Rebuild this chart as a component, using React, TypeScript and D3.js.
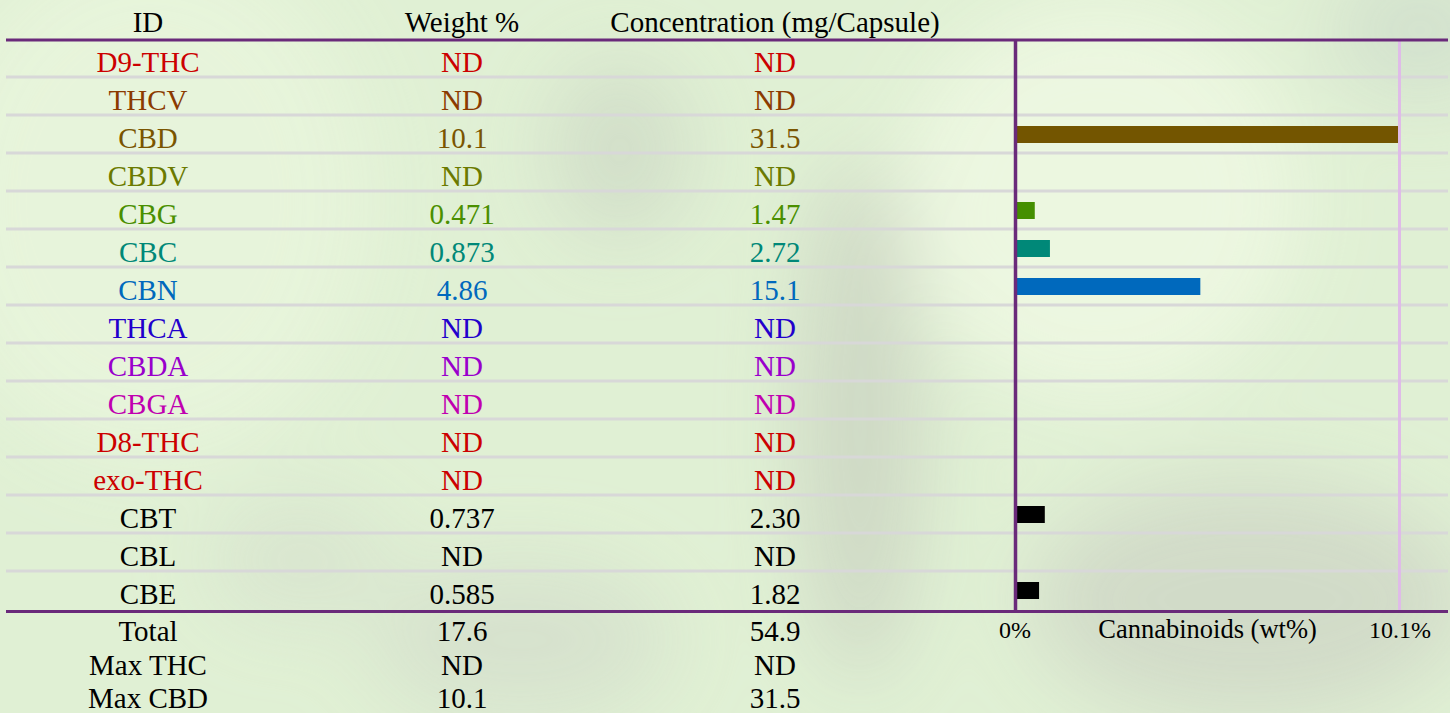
import React, { useEffect } from 'react';
import * as d3 from 'd3';

const ids = ['D9-THC', 'THCV', 'CBD', 'CBDV', 'CBG', 'CBC', 'CBN', 'THCA', 'CBDA', 'CBGA', 'D8-THC', 'exo-THC', 'CBT', 'CBL', 'CBE'];
const weights = ['ND', 'ND', '10.1', 'ND', '0.471', '0.873', '4.86', 'ND', 'ND', 'ND', 'ND', 'ND', '0.737', 'ND', '0.585'];
const concentrations = ['ND', 'ND', '31.5', 'ND', '1.47', '2.72', '15.1', 'ND', 'ND', 'ND', 'ND', 'ND', '2.30', 'ND', '1.82'];
const textColors = ['#cc0000', '#8b3a00', '#7a5500', '#6b7a00', '#4a8f00', '#008878', '#0069bd', '#2200cc', '#9900cc', '#c000b0', '#cc0000', '#cc0000', '#000000', '#000000', '#000000'];
const barColors = ['#cc0000', '#8b3a00', '#735500', '#6b7a00', '#448f00', '#008878', '#0069bd', '#2200cc', '#9900cc', '#c000b0', '#cc0000', '#cc0000', '#000000', '#000000', '#000000'];

const summaryLabels = ['Total', 'Max THC', 'Max CBD'];
const summaryWeights = ['17.6', 'ND', '10.1'];
const summaryConc = ['54.9', 'ND', '31.5'];

const headers = ['ID', 'Weight %', 'Concentration (mg/Capsule)'];
const axisMax = 10.1;
const axisLabels = ['0%', 'Cannabinoids (wt%)', '10.1%'];

const W = 1450;
const H = 713;
const FONT = '"Liberation Serif", "Times New Roman", serif';
const colX = [148, 462, 775];

export default function App() {
  useEffect(() => {
    document.body.style.margin = '0';
  }, []);

  const y = d3.scaleBand<string>().domain(ids).range([40, 610]).padding(0);
  const x = d3.scaleLinear().domain([0, axisMax]).range([1017, 1398]);
  const bw = y.bandwidth();
  const val = (s: string) => (s === 'ND' ? 0 : parseFloat(s));

  return (
    <svg width={W} height={H} style={{ display: 'block' }}>
      <defs>
        <filter id="blur" x="-50%" y="-50%" width="200%" height="200%">
          <feGaussianBlur stdDeviation="40" />
        </filter>
      </defs>
      <rect width={W} height={H} fill="#e0f0d4" />
      <g filter="url(#blur)" opacity={0.9}>
        <ellipse cx={150} cy={200} rx={220} ry={260} fill="#e8f5dc" />
        <ellipse cx={1100} cy={200} rx={200} ry={200} fill="#eef8e2" />
        <ellipse cx={620} cy={150} rx={70} ry={90} fill="#d0ddc8" />
        <ellipse cx={860} cy={420} rx={60} ry={260} fill="#ccd6c3" />
        <ellipse cx={1250} cy={600} rx={220} ry={120} fill="#d0d9c7" />
        <ellipse cx={1420} cy={30} rx={90} ry={70} fill="#d1e0cd" />
        <ellipse cx={520} cy={640} rx={150} ry={80} fill="#d6e1cd" />
        <ellipse cx={300} cy={560} rx={90} ry={60} fill="#d8e4cf" />
      </g>

      {/* headers */}
      {headers.map((h, i) => (
        <text key={h} x={colX[i]} y={32} textAnchor="middle" fontFamily={FONT} fontSize={29} fill="#000">
          {h}
        </text>
      ))}

      {/* row separators */}
      {ids.slice(0, -1).map((id) => (
        <line key={'sep' + id} x1={6} x2={1448} y1={(y(id) as number) + bw - 1} y2={(y(id) as number) + bw - 1} stroke="#d8d8d8" strokeWidth={3} />
      ))}

      {/* max gridline */}
      <line x1={x(axisMax) + 1.5} x2={x(axisMax) + 1.5} y1={40} y2={610} stroke="#dfbbe8" strokeWidth={3} />

      {/* bars */}
      {ids.map((id, i) => {
        const v = val(weights[i]);
        if (!v) return null;
        return (
          <rect key={'bar' + id} x={x(0)} y={(y(id) as number) + bw / 2 - 9} width={x(v) - x(0)} height={17} fill={barColors[i]} />
        );
      })}

      {/* axis line */}
      <line x1={1015.5} x2={1015.5} y1={40} y2={611} stroke="#6a2a7a" strokeWidth={3.5} />

      {/* table rows */}
      {ids.map((id, i) => {
        const base = (y(id) as number) + 32;
        return (
          <g key={'row' + id} fontFamily={FONT} fontSize={29} fill={textColors[i]} textAnchor="middle">
            <text x={colX[0]} y={base}>{id}</text>
            <text x={colX[1]} y={base}>{weights[i]}</text>
            <text x={colX[2]} y={base}>{concentrations[i]}</text>
          </g>
        );
      })}

      {/* top & bottom rules */}
      <line x1={6} x2={1448} y1={40} y2={40} stroke="#6a2a7a" strokeWidth={3} />
      <line x1={6} x2={1448} y1={611.5} y2={611.5} stroke="#6a2a7a" strokeWidth={3} />

      {/* summary */}
      {summaryLabels.map((s, i) => (
        <g key={s} fontFamily={FONT} fontSize={29} fill="#000" textAnchor="middle">
          <text x={colX[0]} y={641 + i * 33.5}>{s}</text>
          <text x={colX[1]} y={641 + i * 33.5}>{summaryWeights[i]}</text>
          <text x={colX[2]} y={641 + i * 33.5}>{summaryConc[i]}</text>
        </g>
      ))}

      {/* axis labels */}
      <g fontFamily={FONT} fill="#000" textAnchor="middle">
        <text x={x(0) - 2} y={638} fontSize={24}>{axisLabels[0]}</text>
        <text x={(x(0) + x(axisMax)) / 2} y={638} fontSize={26.5}>{axisLabels[1]}</text>
        <text x={x(axisMax) + 2} y={638} fontSize={24}>{axisLabels[2]}</text>
      </g>
    </svg>
  );
}
